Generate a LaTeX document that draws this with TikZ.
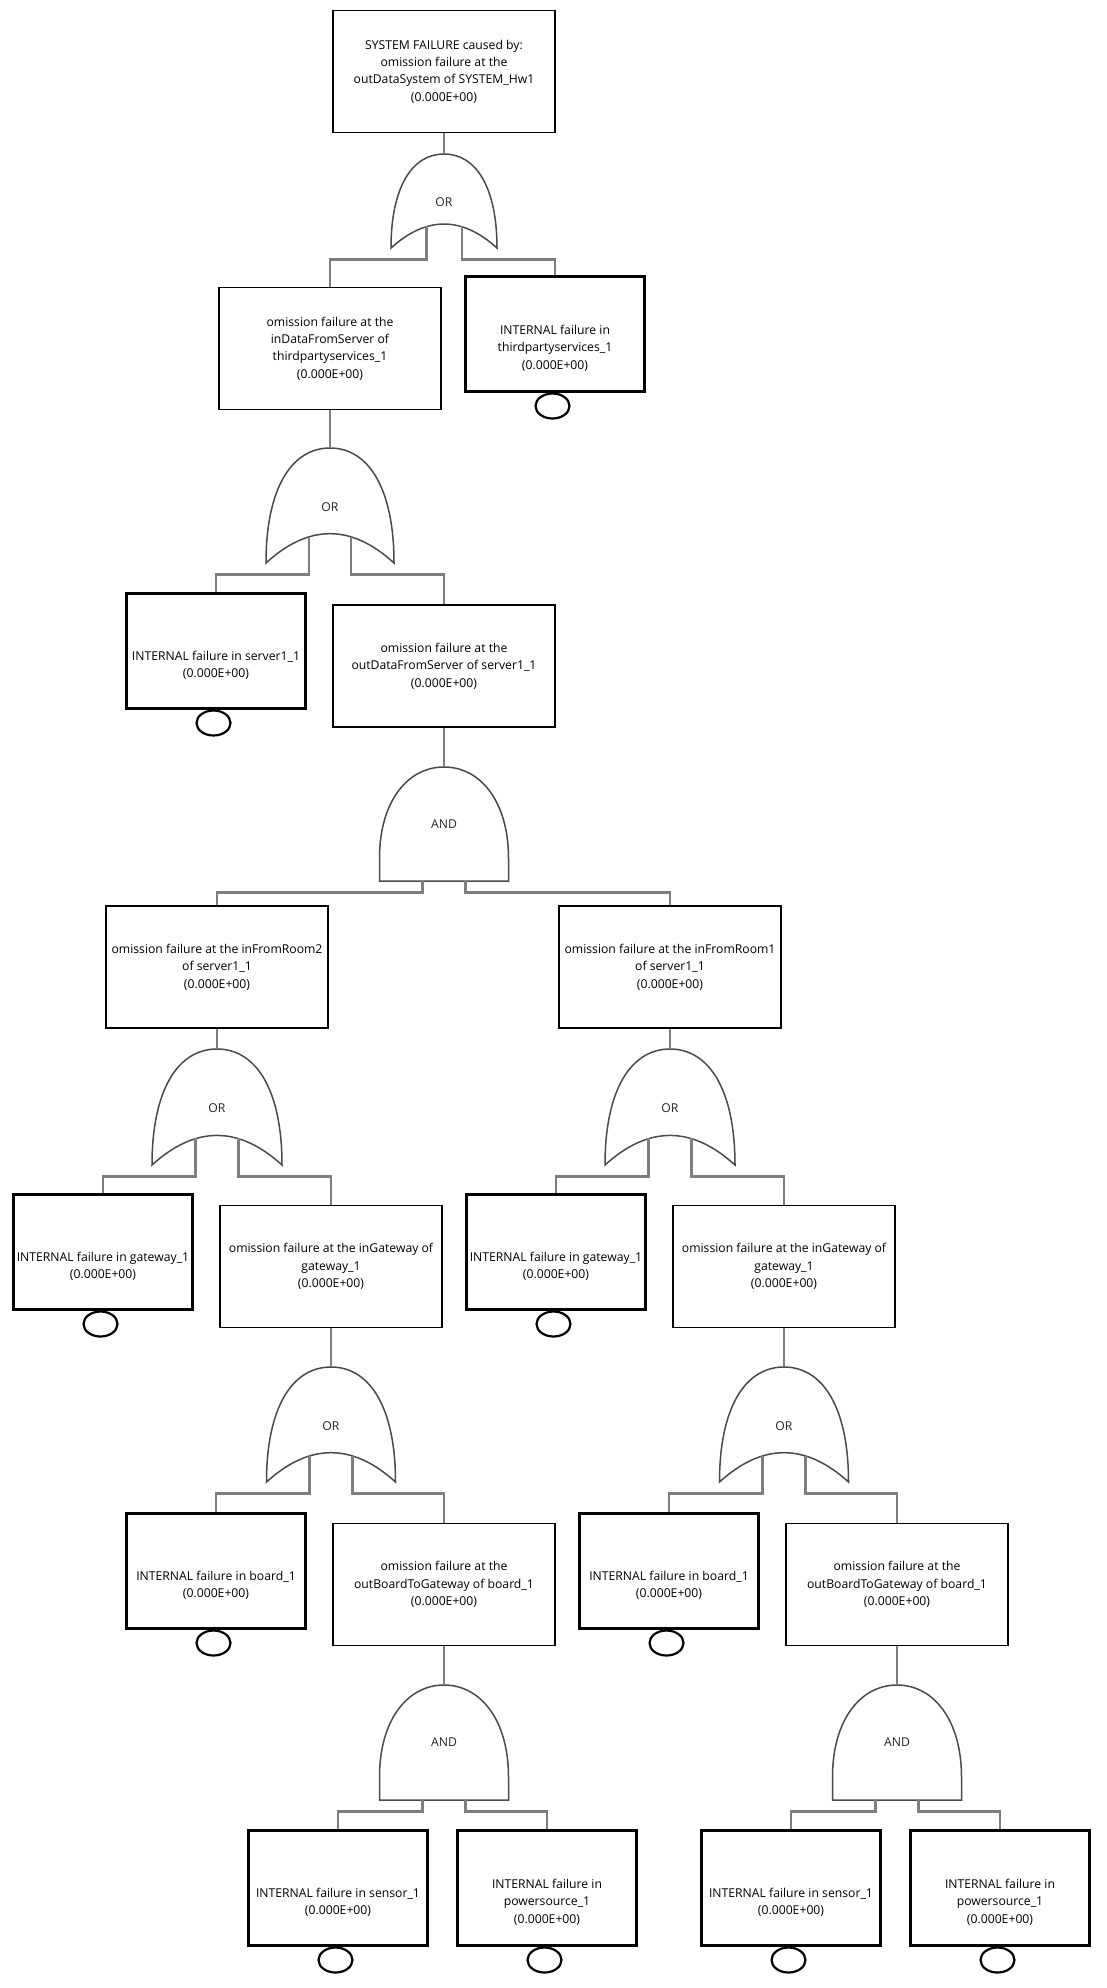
\documentclass[tikz,border=0pt]{standalone}
\usepackage{fontspec}
\setmainfont{Open Sans}
\usepackage{tikz}
\usetikzlibrary{shapes.geometric,calc}
\definecolor{wiregray}{HTML}{7E7E7E}
\definecolor{gategray}{HTML}{4A4A4A}
\newcommand\evfont{\fontsize{12.2}{17.3}\selectfont}
\tikzset{ev/.style={draw,line width=1.3pt,minimum width=222pt,minimum height=122pt,align=center,inner sep=1pt,font=\evfont},
 bx/.style={draw,line width=3.2pt,minimum width=179pt,minimum height=115pt,inner sep=0pt},
 bc/.style={draw,ellipse,line width=2.2pt,minimum width=34pt,minimum height=25pt,inner sep=0pt},
 btxt/.style={align=center,font=\evfont,inner sep=0pt},
 gtxt/.style={font=\evfont,text=black!85,inner sep=0pt},
 gate/.style={draw=gategray,line width=1.5pt,fill=white},
 wire/.style={draw=wiregray,line width=2.2pt},
 pics/basicev/.style={code={
  \node[bx,anchor=north] (-box) at (0,0) {};
  \node[bc] (-c) at (-2.5,131) {};
  \node[btxt] (-txt) at (0,73) {#1};}},
 pics/orgate/.style 2 args={code={
  \path[gate] (-#1/2,#2) .. controls (-#1/2,0.35*#2) and (-0.3*#1,0) .. (0,0)
   .. controls (0.3*#1,0) and (#1/2,0.35*#2) .. (#1/2,#2)
   .. controls (#1/6,0.66*#2) and (-#1/6,0.66*#2) .. cycle;
  \node[gtxt] (-lbl) at (0,0.51*#2) {OR};
  \coordinate (-in) at (0,0);
  \coordinate (-l) at (-0.166*#1,0.77*#2); \coordinate (-lo) at (-0.166*#1,#2+11.5);
  \coordinate (-r) at (0.166*#1,0.77*#2); \coordinate (-ro) at (0.166*#1,#2+11.5);}},
 pics/andgate/.style 2 args={code={
  \path[gate] (-#1/2,#2) -- (-#1/2,0.8*#2) .. controls (-#1/2,0.3*#2) and (-0.28*#1,0) .. (0,0)
   .. controls (0.28*#1,0) and (#1/2,0.3*#2) .. (#1/2,0.8*#2) -- (#1/2,#2) -- cycle;
  \node[gtxt] (-lbl) at (0,0.5*#2) {AND};
  \coordinate (-in) at (0,0);
  \coordinate (-l) at (-0.166*#1,#2); \coordinate (-lo) at (-0.166*#1,#2+11.5);
  \coordinate (-r) at (0.166*#1,#2); \coordinate (-ro) at (0.166*#1,#2+11.5);}}}
\begin{document}
\begin{tikzpicture}[x=1pt,y=-1pt]
\useasboundingbox (0,0) rectangle (1106,1988);
% intermediate events
\node[ev] (top) at (444,71.5) {SYSTEM FAILURE caused by:\\omission failure at the\\outDataSystem of SYSTEM\_Hw1\\(0.000E+00)};
\node[ev] (e1) at (330,348.5) {omission failure at the\\inDataFromServer of\\thirdpartyservices\_1\\(0.000E+00)};
\node[ev] (e2) at (444,666) {omission failure at the\\outDataFromServer of server1\_1\\(0.000E+00)};
\node[ev] (e3) at (217,967) {omission failure at the inFromRoom2\\of server1\_1\\(0.000E+00)};
\node[ev] (e4) at (670,967) {omission failure at the inFromRoom1\\of server1\_1\\(0.000E+00)};
\node[ev] (e5) at (331,1266.5) {omission failure at the inGateway of\\gateway\_1\\(0.000E+00)};
\node[ev] (e6) at (784,1266.5) {omission failure at the inGateway of\\gateway\_1\\(0.000E+00)};
\node[ev] (e7) at (444,1584.5) {omission failure at the\\outBoardToGateway of board\_1\\(0.000E+00)};
\node[ev] (e8) at (897,1584.5) {omission failure at the\\outBoardToGateway of board\_1\\(0.000E+00)};
% basic events
\pic (b1) at (555,275) {basicev={INTERNAL failure in\\thirdpartyservices\_1\\(0.000E+00)}};
\pic (b2) at (216,592) {basicev={INTERNAL failure in server1\_1\\(0.000E+00)}};
\pic (b3) at (103,1193) {basicev={INTERNAL failure in gateway\_1\\(0.000E+00)}};
\pic (b4) at (556,1193) {basicev={INTERNAL failure in gateway\_1\\(0.000E+00)}};
\pic (b5) at (216,1512) {basicev={INTERNAL failure in board\_1\\(0.000E+00)}};
\pic (b6) at (669,1512) {basicev={INTERNAL failure in board\_1\\(0.000E+00)}};
\pic (b7) at (338,1829) {basicev={INTERNAL failure in sensor\_1\\(0.000E+00)}};
\pic (b8) at (547,1829) {basicev={INTERNAL failure in\\powersource\_1\\(0.000E+00)}};
\pic (b9) at (791,1829) {basicev={INTERNAL failure in sensor\_1\\(0.000E+00)}};
\pic (b10) at (1000,1829) {basicev={INTERNAL failure in\\powersource\_1\\(0.000E+00)}};
% gates
\pic (g1) at (444,154) {orgate={106}{94}};
\pic (g2) at (330,448) {orgate={128}{115}};
\pic (g3) at (444,767) {andgate={129}{114}};
\pic (g4) at (217,1049) {orgate={130}{116}};
\pic (g5) at (670,1049) {orgate={130}{116}};
\pic (g6) at (331,1367) {orgate={129}{115}};
\pic (g7) at (784,1367) {orgate={129}{115}};
\pic (g8) at (444,1685) {andgate={129}{115}};
\pic (g9) at (897,1685) {andgate={129}{115}};
% wires
\foreach \p/\g in {top/g1,e1/g2,e2/g3,e3/g4,e4/g5,e5/g6,e6/g7,e7/g8,e8/g9}
 \draw[wire] (\p.south) -- (\g-in);
\foreach \g/\a/\b in {g1/e1/b1-box,g2/b2-box/e2,g3/e3/e4,g4/b3-box/e5,g5/b4-box/e6,
 g6/b5-box/e7,g7/b6-box/e8,g8/b7-box/b8-box,g9/b9-box/b10-box}{
 \draw[wire] (\g-l) -- (\g-lo) -| (\a.north);
 \draw[wire] (\g-r) -- (\g-ro) -| (\b.north);}
\end{tikzpicture}
\end{document}
